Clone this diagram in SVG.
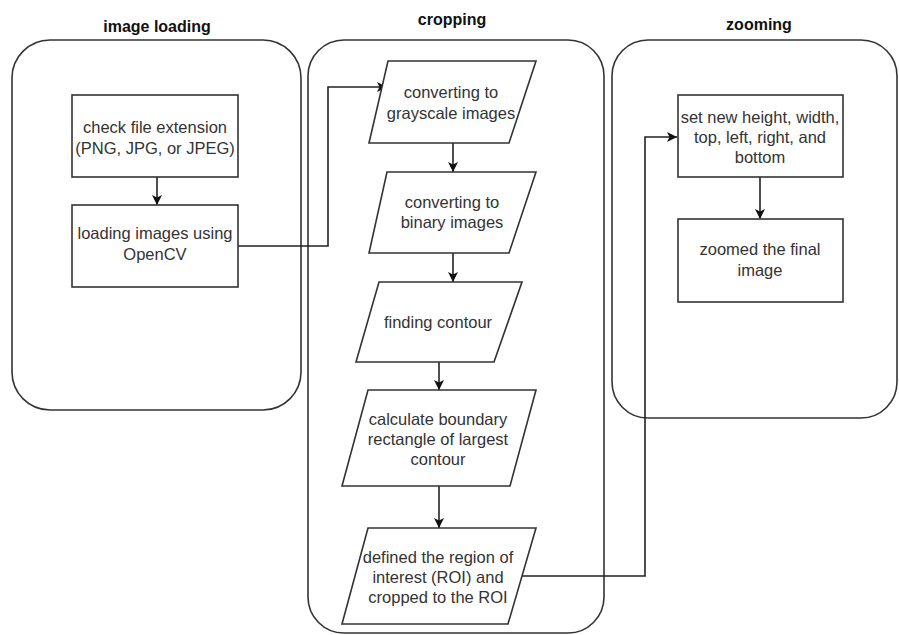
<svg xmlns="http://www.w3.org/2000/svg" width="899" height="635" viewBox="0 0 899 635">
<defs>
<style>
.cont{fill:none;stroke:#333;stroke-width:1.6}
.node{fill:#fff;stroke:#333;stroke-width:1.6}
.title{font-family:"Liberation Sans",Arial,sans-serif;font-size:16px;font-weight:bold;fill:#111;text-anchor:middle}
.lbl{font-family:"Liberation Sans",Arial,sans-serif;font-size:16.5px;fill:#333;text-anchor:middle}
.edge{fill:none;stroke:#222;stroke-width:1.6}
</style>
<marker id="arr" viewBox="0 0 10 10" refX="10" refY="5" markerWidth="10" markerHeight="10" markerUnits="userSpaceOnUse" orient="auto">
<path d="M0,0 L10,5 L0,10 L2.5,5 Z" fill="#111"/>
</marker>
</defs>
<rect width="899" height="635" fill="#fff"/>

<g id="container-image-loading">
<rect class="cont" x="12" y="40" width="289" height="370" rx="38" ry="38"/>
<text class="title" x="157" y="32">image loading</text>
</g>
<g id="container-cropping">
<rect class="cont" x="308" y="40" width="296" height="593" rx="36" ry="36"/>
<text class="title" x="452" y="25">cropping</text>
</g>
<g id="container-zooming">
<rect class="cont" x="612" y="40" width="285" height="378" rx="36" ry="36"/>
<text class="title" x="759" y="30">zooming</text>
</g>

<g id="connectors">
<line class="edge" x1="157" y1="177" x2="157" y2="205" marker-end="url(#arr)"/>
<polyline class="edge" points="238,246 328,246 328,87 387,87" marker-end="url(#arr)"/>
<line class="edge" x1="453" y1="143" x2="453" y2="172" marker-end="url(#arr)"/>
<line class="edge" x1="453" y1="253" x2="453" y2="282" marker-end="url(#arr)"/>
<line class="edge" x1="439" y1="362" x2="439" y2="390" marker-end="url(#arr)"/>
<line class="edge" x1="439" y1="486" x2="439" y2="528" marker-end="url(#arr)"/>
<polyline class="edge" points="522,576 645,576 645,137 677,137" marker-end="url(#arr)"/>
<line class="edge" x1="760" y1="177" x2="760" y2="219" marker-end="url(#arr)"/>
</g>

<g id="node-check-extension">
<rect class="node" x="72" y="95" width="166" height="82"/>
<text class="lbl" x="155" y="133">check file extension</text>
<text class="lbl" x="155" y="154">(PNG, JPG, or JPEG)</text>
</g>
<g id="node-loading-images">
<rect class="node" x="72" y="205" width="166" height="82"/>
<text class="lbl" x="155" y="239">loading images using</text>
<text class="lbl" x="155" y="260">OpenCV</text>
</g>

<g id="node-grayscale">
<polygon class="node" points="388,61 536,61 509,143 369,143"/>
<text class="lbl" x="451" y="98">converting to</text>
<text class="lbl" x="451" y="119">grayscale images</text>
</g>
<g id="node-binary">
<polygon class="node" points="387,172 536,172 509,253 369,253"/>
<text class="lbl" x="452" y="208">converting to</text>
<text class="lbl" x="452" y="228">binary images</text>
</g>
<g id="node-finding-contour">
<polygon class="node" points="379,282 522,282 494,362 356,362"/>
<text class="lbl" x="438" y="328">finding contour</text>
</g>
<g id="node-boundary">
<polygon class="node" points="368,390 536,390 510,486 342,486"/>
<text class="lbl" x="438" y="425">calculate boundary</text>
<text class="lbl" x="438" y="445">rectangle of largest</text>
<text class="lbl" x="438" y="465">contour</text>
</g>
<g id="node-roi">
<polygon class="node" points="368,528 536,528 508,624 342,624"/>
<text class="lbl" x="438" y="563">defined the region of</text>
<text class="lbl" x="438" y="583">interest (ROI) and</text>
<text class="lbl" x="438" y="603">cropped to the ROI</text>
</g>

<g id="node-set-dims">
<rect class="node" x="678" y="95" width="165" height="82"/>
<text class="lbl" x="760" y="123">set new height, width,</text>
<text class="lbl" x="760" y="143">top, left, right, and</text>
<text class="lbl" x="760" y="163">bottom</text>
</g>
<g id="node-zoomed">
<rect class="node" x="678" y="219" width="165" height="83"/>
<text class="lbl" x="760" y="255">zoomed the final</text>
<text class="lbl" x="760" y="276">image</text>
</g>
</svg>
